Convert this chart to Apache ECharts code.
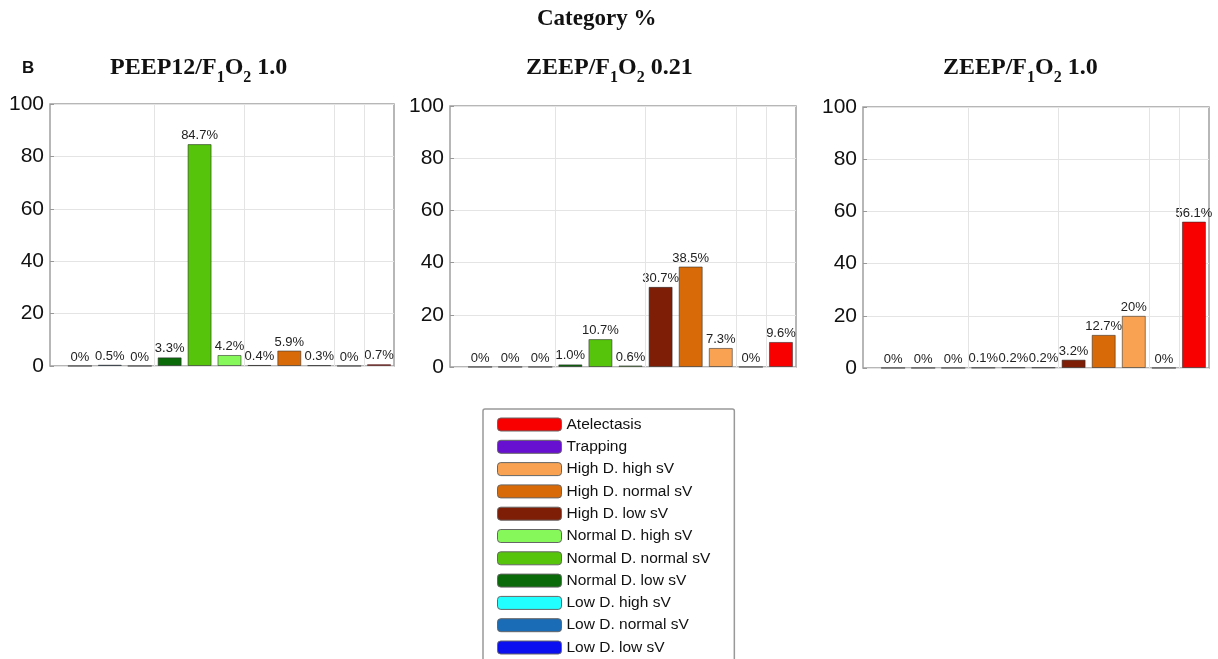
<!DOCTYPE html>
<html>
<head>
<meta charset="utf-8">
<script src="https://cdn.jsdelivr.net/npm/echarts@6/dist/echarts.min.js"></script>
<style>
html,body{margin:0;padding:0;background:#fff;}
#chart{width:1218px;height:659px;}
</style>
</head>
<body>
<div id="chart"></div>
<script>
// ---- data ----
const categories = ['Low D. low sV','Low D. normal sV','Low D. high sV','Normal D. low sV','Normal D. normal sV','Normal D. high sV','High D. low sV','High D. normal sV','High D. high sV','Trapping','Atelectasis'];
const categoryColors = ['#0a10f0','#1a6cb6','#22ffff','#0a6a0a','#55c40a','#86f85a','#7e1e06','#d86a08','#f9a352','#6810d0','#f80000'];
const peep12Fio2_10 = ['0','0.5','0','3.3','84.7','4.2','0.4','5.9','0.3','0','0.7'];
const zeepFio2_021 = ['0','0','0','1.0','10.7','0.6','30.7','38.5','7.3','0','9.6'];
const zeepFio2_10 = ['0','0','0','0.1','0.2','0.2','3.2','12.7','20','0','56.1'];
const panelValues = [peep12Fio2_10, zeepFio2_021, zeepFio2_10];
const panelTitles = [['PEEP12/F','1','O','2',' 1.0'],['ZEEP/F','1','O','2',' 0.21'],['ZEEP/F','1','O','2',' 1.0']];
const groupBreaks = [3.5, 6.5, 9.5, 10.5];
const yMin = 0, yMax = 100, yStep = 20;

// ---- layout ----
const grids = [
  {left: 50, top: 104, width: 344, height: 262},
  {left: 450, top: 106, width: 346, height: 261},
  {left: 863, top: 107, width: 346, height: 261}
];
const titleLefts = [110, 526, 943];

const chart = echarts.init(document.getElementById('chart'));

const sans = '"Liberation Sans", Arial, Helvetica, sans-serif';
const serif = '"Liberation Serif", "Times New Roman", serif';

const gridOpts = grids.map(g => Object.assign({show: true, borderColor: '#a0a0a0', borderWidth: 1.5, backgroundColor: '#fff'}, g));
const xAxes = grids.map((g, i) => ({
  type: 'value', gridIndex: i, min: 0, max: 11.5,
  axisLabel: {show: false}, axisTick: {show: false}, axisLine: {show: false}, splitLine: {show: false}
}));
const yAxes = grids.map((g, i) => ({
  type: 'value', gridIndex: i, min: yMin, max: yMax, interval: yStep,
  axisLine: {show: false},
  axisTick: {show: true, inside: true, length: 4, lineStyle: {color: '#999'}},
  axisLabel: {fontFamily: sans, fontSize: 21, color: '#111', margin: 6},
  splitLine: {show: true, lineStyle: {color: '#e4e4e4', width: 1}}
}));

const series = [];
panelValues.forEach((vals, p) => {
  categories.forEach((name, c) => {
    const s = {
      type: 'bar', name: name, xAxisIndex: p, yAxisIndex: p, stack: 'panel' + p,
      barWidth: 24,
      data: [[c + 1, parseFloat(vals[c])]],
      itemStyle: {color: categoryColors[c], borderColor: 'rgba(40,40,40,0.55)', borderWidth: 1},
      label: {show: true, position: 'top', distance: 2, formatter: vals[c] + '%', fontFamily: sans, fontSize: 13, color: '#222'},
      emphasis: {disabled: true}
    };
    if (c === 0) {
      s.markLine = {
        silent: true, symbol: 'none', label: {show: false},
        lineStyle: {color: '#e4e4e4', type: 'solid', width: 1},
        data: groupBreaks.map(v => ({xAxis: v}))
      };
    }
    series.push(s);
  });
});

const titles = [
  {text: 'Category %', left: 537, top: 8, padding: 0, textStyle: {fontFamily: serif, fontWeight: 'bold', fontSize: 23, color: '#111'}},
  {text: 'B', left: 22, top: 60, padding: 0, textStyle: {fontFamily: sans, fontWeight: 'bold', fontSize: 17, color: '#111'}}
];
panelTitles.forEach((t, i) => {
  titles.push({
    text: '{a|' + t[0] + '}{s|' + t[1] + '}{a|' + t[2] + '}{s|' + t[3] + '}{a|' + t[4] + '}',
    left: titleLefts[i], top: 50, padding: 0,
    textStyle: {
      rich: {
        a: {fontFamily: serif, fontWeight: 'bold', fontSize: 24, color: '#111', lineHeight: 36, verticalAlign: 'middle'},
        s: {fontFamily: serif, fontWeight: 'bold', fontSize: 16, color: '#111', verticalAlign: 'bottom'}
      }
    }
  });
});

const option = {
  animation: false,
  backgroundColor: '#fff',
  title: titles,
  grid: gridOpts,
  xAxis: xAxes,
  yAxis: yAxes,
  legend: {
    orient: 'vertical', left: 483, top: 409, height: 320,
    padding: [7.5, 24, 8, 14],
    borderColor: '#999', borderWidth: 1.5, borderRadius: 2,
    itemWidth: 64, itemHeight: 13, itemGap: 6.3, itemTextGap: 8,
    icon: 'roundRect',
    itemStyle: {borderColor: '#666', borderWidth: 1},
    textStyle: {fontFamily: sans, fontSize: 15.5, color: '#111', lineHeight: 15},
    data: categories.slice().reverse(),
    selectedMode: false
  },
  series: series
};
chart.setOption(option);
</script>
</body>
</html>
